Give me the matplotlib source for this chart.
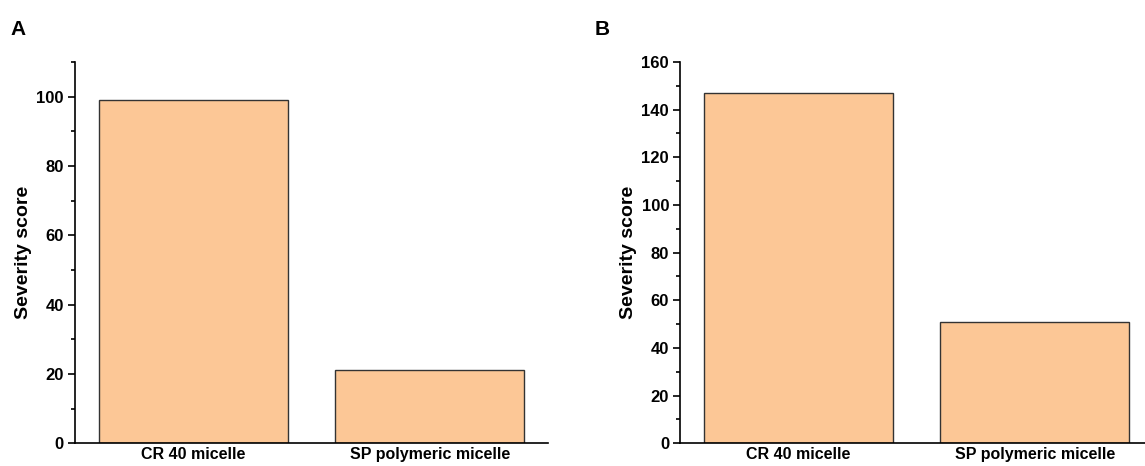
import matplotlib.pyplot as plt
from matplotlib.ticker import MultipleLocator

plt.rcParams['font.family'] = ['Liberation Sans', 'DejaVu Sans']
plt.rcParams['font.weight'] = 'bold'

categories = ["CR 40 micelle", "SP polymeric micelle"]
scores_a = [99, 21]
scores_b = [147, 51]

bar_color = "#FCC796"

fig = plt.figure(figsize=(11.45, 4.66), dpi=100)
ax_a = fig.add_axes([0.0655, 0.049, 0.413, 0.818])
ax_b = fig.add_axes([0.594, 0.049, 0.413, 0.818])

for ax, vals, top in [(ax_a, scores_a, 110), (ax_b, scores_b, 160)]:
    ax.bar(range(len(categories)), vals, width=0.8, color=bar_color,
           edgecolor="#333333", linewidth=1.0)
    ax.set_xlim(-0.5, 1.5)
    ax.set_ylim(0, top)
    ax.set_xticks(range(len(categories)))
    ax.set_xticklabels(categories, fontsize=11.5, fontweight='bold')
    ax.yaxis.set_major_locator(MultipleLocator(20))
    ax.yaxis.set_minor_locator(MultipleLocator(10))
    ax.tick_params(axis='x', length=0, pad=3)
    ax.tick_params(axis='y', which='major', length=5, width=1.2, labelsize=12, pad=3)
    ax.tick_params(axis='y', which='minor', length=3, width=1.2)
    ax.spines['top'].set_visible(False)
    ax.spines['right'].set_visible(False)
    ax.spines['left'].set_linewidth(1.2)
    ax.spines['bottom'].set_linewidth(1.2)
    ax.set_ylabel("Severity score", fontsize=14, fontweight='bold', labelpad=3)

fig.text(0.009, 0.925, "A", fontsize=15, fontweight='bold')
fig.text(0.519, 0.925, "B", fontsize=15, fontweight='bold')

fig.savefig("out.png", dpi=100)
